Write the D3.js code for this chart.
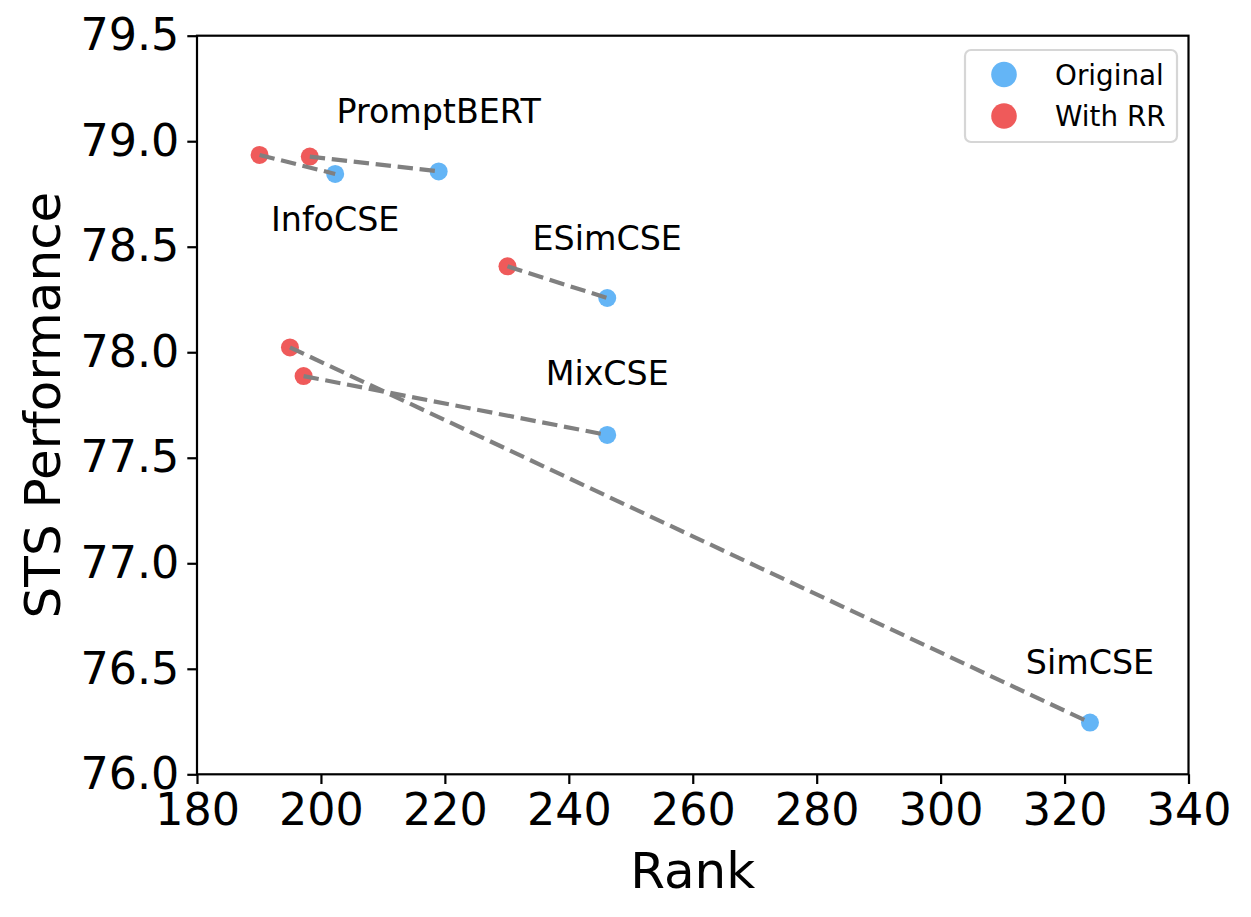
<!DOCTYPE html>
<html>
<head>
<meta charset="utf-8">
<script src="https://cdn.jsdelivr.net/npm/d3@7"></script>
<style>
  body { margin: 0; background: #fff; }
  text { font-family: "DejaVu Sans", sans-serif; }
</style>
</head>
<body>
<div id="chart"></div>
<script>
// data
var methods = ["SimCSE", "MixCSE", "ESimCSE", "InfoCSE", "PromptBERT"];
var origRank = [324.1, 246.2, 246.2, 202.3, 219.0];
var origSts = [76.245, 77.608, 78.257, 78.845, 78.857];
var rrRank = [195.0, 197.2, 230.1, 190.1, 198.2];
var rrSts = [78.023, 77.887, 78.407, 78.935, 78.927];
// where each method's name sits (data units, centred on its original rank)
var labelSts = [76.475, 77.845, 78.484, 78.576, 79.086];

var xTicks = [180, 200, 220, 240, 260, 280, 300, 320, 340];
var yTicks = [76.0, 76.5, 77.0, 77.5, 78.0, 78.5, 79.0, 79.5];

var seriesNames = ["Original", "With RR"];
var colors = ["#64b5f6", "#ef5a5a"];

var svgWidth = 1251;
var svgHeight = 917;

var margin = {top: 35.7, right: 62.5, bottom: 142.7, left: 197};
var chartWidth = svgWidth - margin.left - margin.right;
var chartHeight = svgHeight - margin.top - margin.bottom;

var svg = d3.select("#chart")
    .append("svg")
    .attr("width", svgWidth)
    .attr("height", svgHeight);

var chartGroup = svg.append("g").attr("transform", `translate(${margin.left}, ${margin.top})`);

var xscale = d3.scaleLinear().domain([180, 340]).range([0, chartWidth]);
var yscale = d3.scaleLinear().domain([76, 79.5]).range([chartHeight, 0]);

// axes
var xAxis = chartGroup.append("g")
    .attr("transform", `translate(0, ${chartHeight})`)
    .call(d3.axisBottom(xscale).tickValues(xTicks).tickFormat(d3.format("d"))
        .tickSize(9.7).tickSizeOuter(0).tickPadding(9));
var yAxis = chartGroup.append("g")
    .call(d3.axisLeft(yscale).tickValues(yTicks).tickFormat(d3.format(".1f"))
        .tickSize(9.7).tickSizeOuter(0).tickPadding(8));

[xAxis, yAxis].forEach(function(ax){
    ax.select(".domain").remove();
    ax.selectAll("line").attr("stroke", "#000").attr("stroke-width", 2.2);
    ax.selectAll("text").attr("font-size", 44.4).attr("fill", "#000")
        .style("font-family", "DejaVu Sans");
});
xAxis.selectAll("text").attr("dy", "0.71em");

// frame
chartGroup.append("rect")
    .attr("width", chartWidth)
    .attr("height", chartHeight)
    .attr("fill", "none")
    .attr("stroke", "#000")
    .attr("stroke-width", 2.2);

// points
var idx = d3.range(methods.length);

chartGroup.selectAll(".orig")
    .data(idx)
    .enter()
    .append("circle")
    .attr("cx", i => xscale(origRank[i]))
    .attr("cy", i => yscale(origSts[i]))
    .attr("r", 9)
    .attr("fill", colors[0]);

chartGroup.selectAll(".rr")
    .data(idx)
    .enter()
    .append("circle")
    .attr("cx", i => xscale(rrRank[i]))
    .attr("cy", i => yscale(rrSts[i]))
    .attr("r", 9)
    .attr("fill", colors[1]);

// dashed connectors, drawn over the dots
chartGroup.selectAll(".link")
    .data(idx)
    .enter()
    .append("line")
    .attr("x1", i => xscale(rrRank[i]))
    .attr("y1", i => yscale(rrSts[i]))
    .attr("x2", i => xscale(origRank[i]))
    .attr("y2", i => yscale(origSts[i]))
    .attr("stroke", "#808080")
    .attr("stroke-width", 4.2)
    .attr("stroke-dasharray", "15.4,6.7");

// method names
chartGroup.selectAll(".name")
    .data(idx)
    .enter()
    .append("text")
    .attr("x", i => xscale(origRank[i]))
    .attr("y", i => yscale(labelSts[i]))
    .attr("text-anchor", "middle")
    .attr("font-size", 33.3)
    .attr("fill", "#000")
    .text(i => methods[i]);

// axis titles
svg.append("text")
    .attr("x", margin.left + chartWidth / 2)
    .attr("y", 888)
    .attr("text-anchor", "middle")
    .attr("font-size", 50)
    .text("Rank");

svg.append("text")
    .attr("transform", `translate(60, ${margin.top + chartHeight / 2}) rotate(-90)`)
    .attr("text-anchor", "middle")
    .attr("font-size", 50)
    .text("STS Performance");

// legend
var legend = svg.append("g").attr("transform", "translate(965, 50)");
legend.append("rect")
    .attr("width", 212)
    .attr("height", 92)
    .attr("rx", 6)
    .attr("fill", "#fff")
    .attr("stroke", "#d6d6d6")
    .attr("stroke-width", 2.2);

seriesNames.forEach(function(name, i){
    var row = legend.append("g").attr("transform", `translate(0, ${24.5 + i * 41.5})`);
    row.append("circle").attr("cx", 39).attr("r", 12.8).attr("fill", colors[i]);
    row.append("text")
        .attr("x", 90)
        .attr("dy", "0.36em")
        .attr("font-size", 27.8)
        .text(name);
});
</script>
</body>
</html>
